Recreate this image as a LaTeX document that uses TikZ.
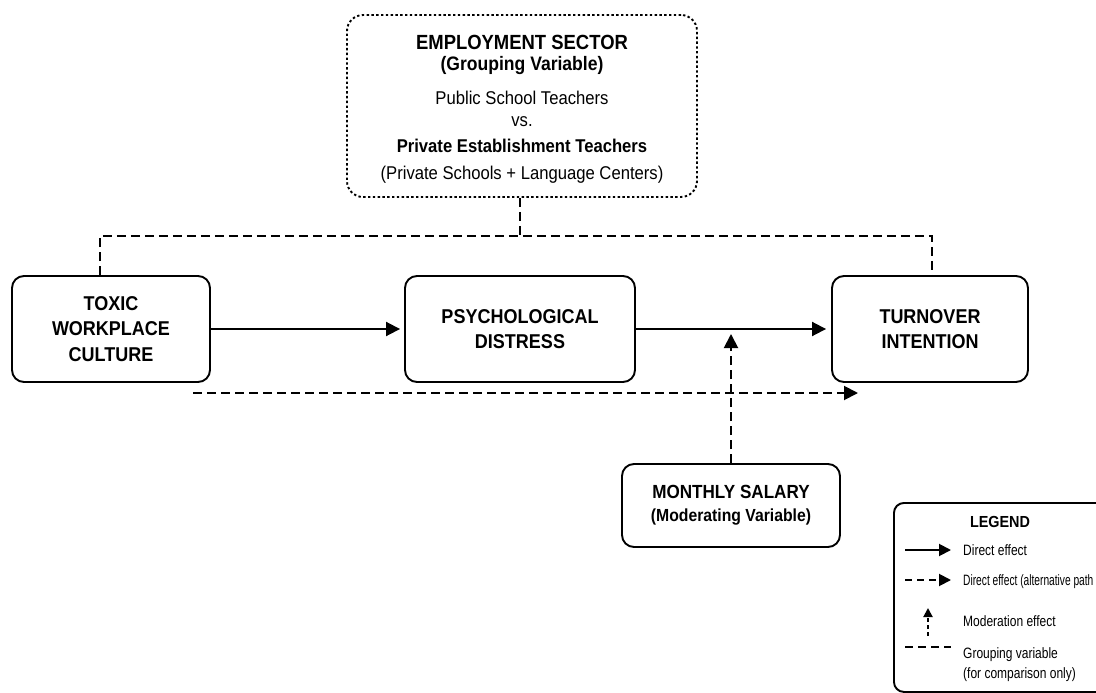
\documentclass[tikz,border=0pt]{standalone}
\usepackage{fontspec}
\setmainfont[FakeStretch=0.9]{Liberation Sans}
\newfontfamily\legfont[FakeStretch=0.8]{Liberation Sans}
\newfontfamily\legnarrow[FakeStretch=0.68]{Liberation Sans}
\usetikzlibrary{arrows.meta,calc}
\begin{document}
\begin{tikzpicture}[x=1pt,y=-1pt,
  box/.style={draw, line width=1.9pt, rounded corners=12pt, align=center,
    font=\bfseries\fontsize{20}{25.5}\selectfont, inner sep=0pt},
  etext/.style={anchor=base, inner sep=0pt},
  tip/.style={-{Triangle[length=14pt,width=14pt]}},
  sol/.style={line width=1.9pt, tip},
  grp/.style={line width=1.9pt, dash pattern=on 9pt off 5pt},
  dsharr/.style={line width=1.9pt, dash pattern=on 9pt off 5pt, tip},
  legtext/.style={anchor=base west, inner sep=0pt, font=\legfont\fontsize{15}{20}\selectfont},
]
\useasboundingbox (0,0) rectangle (1096,693);
\clip (0,0) rectangle (1096,693);

% Employment sector box
\node[draw, line width=1.9pt, dash pattern=on 2.4pt off 2.4pt, rounded corners=16pt,
      minimum width=350pt, minimum height=182pt, inner sep=0pt] (emp) at (522,106) {};
\node[etext, font=\bfseries\fontsize{20.5}{21}\selectfont] (e1) at (522,49.5) {EMPLOYMENT SECTOR};
\node[etext, font=\bfseries\fontsize{19.5}{21}\selectfont] (e2) at (522,70.5) {(Grouping Variable)};
\node[etext, font=\fontsize{18.5}{21}\selectfont] (e3) at (522,104) {Public School Teachers};
\node[etext, font=\fontsize{18.5}{21}\selectfont] (e4) at (522,127) {vs.};
\node[etext, font=\bfseries\fontsize{18.5}{21}\selectfont] (e5) at (522,153) {Private Establishment Teachers};
\node[etext, font=\fontsize{18.5}{21}\selectfont] (e6) at (522,179) {(Private Schools + Language Centers)};

% Main boxes
\node[box, minimum width=198pt, minimum height=106pt] (toxic) at (111,329) {TOXIC\\WORKPLACE\\CULTURE};
\node[box, minimum width=230pt, minimum height=106pt] (psych) at (520,329) {PSYCHOLOGICAL\\DISTRESS};
\node[box, minimum width=196pt, minimum height=106pt] (turn) at (930,329) {TURNOVER\\INTENTION};
\node[box, minimum width=218pt, minimum height=83pt, font=\bfseries\fontsize{19}{23}\selectfont]
  (sal) at (731,505.5) {MONTHLY SALARY\\{\fontsize{17.5}{23}\selectfont(Moderating Variable)}};

% Grouping connectors
\coordinate (gj) at (520,236);
\coordinate (gl) at (100,236);
\coordinate (gr) at (932,236);
\draw[grp] (emp.south -| gj) -- (gj);
\draw[grp] (toxic.north -| gl) -- (gl) -- (gr) -- (turn.north -| gr);

% Direct effects
\draw[sol, shorten >=4pt] (toxic.east) -- (psych.west);
\draw[sol, shorten >=5pt] (psych.east) -- (turn.west);

% Alternative path
\coordinate (ds) at (193,393);
\coordinate (de) at (858,393);
\draw[dsharr] (ds) -- (de);

% Moderation
\coordinate (mt) at (731,334);
\draw[dsharr] (sal.north) -- (mt);

% Legend
\node[draw, line width=1.9pt, rounded corners=10pt, minimum width=260pt, minimum height=189pt,
      anchor=north west, inner sep=0pt] (leg) at (893,502) {};
\node[anchor=base, inner sep=0pt, font=\bfseries\fontsize{16}{20}\selectfont] (lt) at (1000,527) {LEGEND};

\coordinate (l1a) at (905,550); \coordinate (l1b) at (951,550);
\draw[line width=1.9pt, -{Triangle[length=12pt,width=12pt]}] (l1a) -- (l1b);
\node[legtext] (t1) at (963,555.5) {Direct effect};

\coordinate (l2a) at (905,580); \coordinate (l2b) at (951,580);
\draw[line width=1.9pt, dash pattern=on 7pt off 5pt, -{Triangle[length=12pt,width=12pt]}] (l2a) -- (l2b);
\node[legtext, font=\legnarrow\fontsize{15}{20}\selectfont] (t2) at (963,585.5) {Direct effect (alternative path};

\coordinate (l3a) at (928,636); \coordinate (l3b) at (928,608);
\draw[line width=1.9pt, dash pattern=on 4pt off 3pt, -{Triangle[length=9pt,width=9pt]}] (l3a) -- (l3b);
\node[legtext] (t3) at (963,626.5) {Moderation effect};

\coordinate (l4a) at (905,647); \coordinate (l4b) at (951,647);
\draw[line width=1.9pt, dash pattern=on 8pt off 5pt] (l4a) -- (l4b);
\node[legtext] (t4) at (963,658) {Grouping variable};
\node[legtext] (t5) at (963,678) {(for comparison only)};
\end{tikzpicture}
\end{document}
